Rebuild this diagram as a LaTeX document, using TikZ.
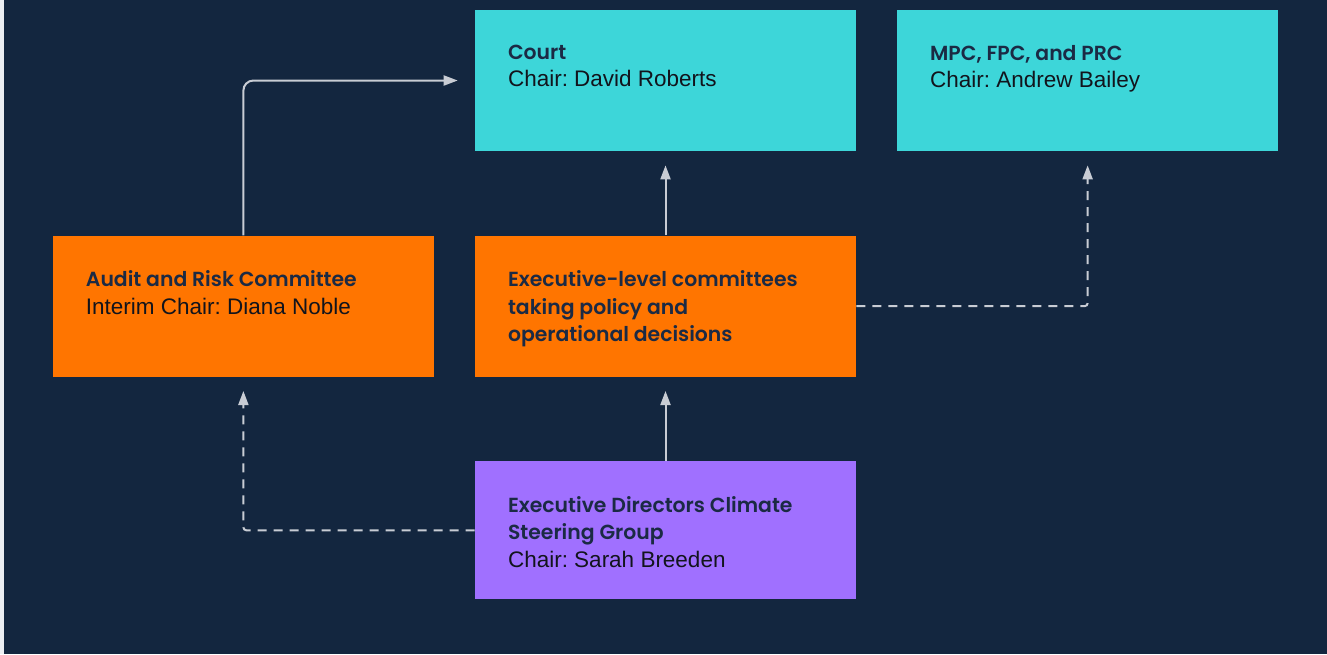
\documentclass[tikz,border=0pt]{standalone}
\usepackage{fontspec}
\setmainfont{Liberation Sans}
\newfontfamily\headfont[BoldFont={Poppins SemiBold}]{Poppins}
\usetikzlibrary{arrows.meta, positioning}
\definecolor{cBg}{RGB}{19, 38, 63}
\definecolor{cEdge}{RGB}{236, 238, 242}
\definecolor{cCourt}{RGB}{61, 214, 217}
\definecolor{cExec}{RGB}{255, 117, 0}
\definecolor{cGroup}{RGB}{160, 112, 255}
\definecolor{cTitle}{RGB}{27, 42, 68}
\definecolor{cChair}{RGB}{18, 20, 28}
\definecolor{cLine}{RGB}{200, 204, 212}
\newcommand{\boxtitle}[1]{{\headfont\bfseries\fontsize{11.6}{15.6}\selectfont\color{cTitle}#1}}
\tikzset{
    % committee boxes
    boxNode/.style={
        rectangle, draw=none, inner sep=0pt,
        minimum width=7.62cm, minimum height=2.82cm
    },
    % text inside a box, hung from its top left corner
    textNode/.style={
        anchor=north west, inner sep=0pt, align=left, text=cChair,
        font=\fontsize{12.8}{15.6}\selectfont\frenchspacing
    },
    % reporting lines
    conn/.style={
        -{Triangle[length=0.28cm, width=0.2cm]}, line width=0.04cm,
        draw=cLine, shorten >=0.28cm
    },
    dashConn/.style={
        conn, dash pattern=on 0.18cm off 0.14cm, rounded corners=0.06cm
    }
}

\begin{document}
\begin{tikzpicture}[x=0.02cm, y=-0.02cm, node distance=1.68cm and 0.81cm]

	% background
	\fill[cBg] (0,0) rectangle (1327,654);
	\fill[cEdge] (0,0) rectangle (4,654);
	\useasboundingbox (0,0) rectangle (1327,654);

	% 1. top row: Court and policy committees
	\node[boxNode, fill=cCourt] (court) at (665.5,80.5) {};
	\node[boxNode, fill=cCourt, right=of court] (mpc) {};

	% 2. middle row
	\node[boxNode, fill=cExec, below=of court] (exec) {};
	\node[boxNode, fill=cExec, left=of exec] (audit) {};

	% 3. bottom: steering group
	\node[boxNode, fill=cGroup, below=of exec, minimum height=2.76cm] (group) {};

	% 4. box texts
	\node[textNode] (courtTxt) at ([xshift=0.66cm, yshift=-0.7cm]court.north west) {
		\boxtitle{Court}\\
		Chair: David Roberts
	};
	\node[textNode] (mpcTxt) at ([xshift=0.66cm, yshift=-0.7cm]mpc.north west) {
		\boxtitle{MPC, FPC, and PRC}\\
		Chair: Andrew Bailey
	};
	\node[textNode] (auditTxt) at ([xshift=0.66cm, yshift=-0.7cm]audit.north west) {
		\boxtitle{Audit and Risk Committee}\\
		Interim Chair: Diana Noble
	};
	\node[textNode] (execTxt) at ([xshift=0.66cm, yshift=-0.7cm]exec.north west) {
		\boxtitle{Executive-level committees}\\
		\boxtitle{taking policy and}\\
		\boxtitle{operational decisions}
	};
	\node[textNode] (groupTxt) at ([xshift=0.66cm, yshift=-0.7cm]group.north west) {
		\boxtitle{Executive Directors Climate}\\
		\boxtitle{Steering Group}\\
		Chair: Sarah Breeden
	};

	% 5. connectors
	\draw[conn, rounded corners=0.2cm, shorten >=0.34cm] (audit.north) |- (court.west);
	\draw[conn] (exec.north) -- (court.south);
	\draw[conn] (group.north) -- (exec.south);
	\draw[dashConn] (exec.east) -| (mpc.south);
	\draw[dashConn] (group.west) -| (audit.south);

\end{tikzpicture}
\end{document}
